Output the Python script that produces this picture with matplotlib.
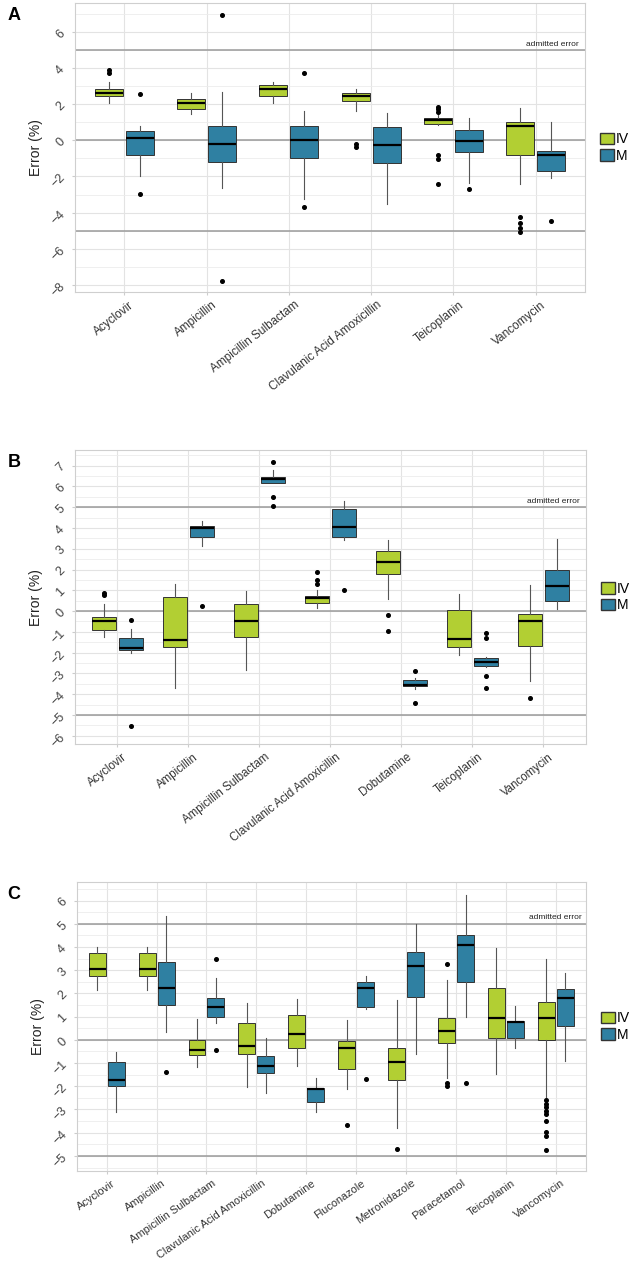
import matplotlib.pyplot as plt
from matplotlib.patches import Patch
from matplotlib.ticker import MultipleLocator
from matplotlib.transforms import ScaledTranslation

plt.rcParams['font.family'] = ['Liberation Sans', 'DejaVu Sans']

IV_COLOR = "#b2cf33"
M_COLOR = "#2f80a2"

# ---- panel A ----
catsA = ["Acyclovir", "Ampicillin", "Ampicillin Sulbactam",
         "Clavulanic Acid Amoxicillin", "Teicoplanin", "Vancomycin"]
# IV: whislo, q1, med, q3, whishi
ivA_lo = [2.06, 1.44, 2.06, 1.63, 0.84, -2.43]
ivA_q1 = [2.43, 1.74, 2.43, 2.19, 0.93, -0.82]
ivA_med = [2.62, 2.06, 2.84, 2.47, 1.10, 0.80]
ivA_q3 = [2.84, 2.28, 3.05, 2.62, 1.23, 1.03]
ivA_hi = [3.23, 2.62, 3.25, 2.84, 1.40, 1.81]
ivA_out = [[3.87, 3.70], [], [], [-0.22, -0.37],
           [1.87, 1.72, 1.57, -0.80, -1.03, -2.43], [-4.24, -4.58, -4.86, -5.05]]
mA_lo = [-1.96, -2.65, -3.27, -3.51, -2.34, -2.11]
mA_q1 = [-0.80, -1.21, -0.97, -1.27, -0.67, -1.72]
mA_med = [0.13, -0.22, 0.0, -0.24, -0.06, -0.79]
mA_q3 = [0.50, 0.79, 0.79, 0.75, 0.56, -0.58]
mA_hi = [0.79, 2.65, 1.64, 1.50, 1.23, 0.99]
mA_out = [[2.56, -2.95], [6.95, -7.78], [3.70, -3.68], [], [-2.67], [-4.45]]

# ---- panel B ----
catsB = ["Acyclovir", "Ampicillin", "Ampicillin Sulbactam",
         "Clavulanic Acid Amoxicillin", "Dobutamine", "Teicoplanin", "Vancomycin"]
ivB_lo = [-1.23, -3.68, -2.84, 0.16, 0.56, -2.11, -3.35]
ivB_q1 = [-0.92, -1.74, -1.23, 0.40, 1.79, -1.74, -1.69]
ivB_med = [-0.50, -1.37, -0.48, 0.61, 2.35, -1.34, -0.47]
ivB_q3 = [-0.29, 0.68, 0.32, 0.74, 2.89, 0.06, -0.13]
ivB_hi = [0.32, 1.32, 0.97, 1.03, 3.42, 0.84, 1.27]
ivB_out = [[0.89, 0.76], [], [], [1.90, 1.48, 1.32], [-0.18, -0.97], [], [-4.16]]
mB_lo = [-2.02, 3.15, 6.16, 3.42, -3.77, -2.68, 0.08]
mB_q1 = [-1.85, 3.55, 6.16, 3.55, -3.61, -2.63, 0.47]
mB_med = [-1.77, 3.98, 6.35, 4.06, -3.55, -2.44, 1.19]
mB_q3 = [-1.29, 4.10, 6.45, 4.89, -3.31, -2.27, 2.00]
mB_hi = [-0.87, 4.35, 6.77, 5.32, -3.23, -2.23, 3.47]
mB_out = [[-0.44, -5.55], [0.24], [7.16, 5.47, 5.06], [1.03], [-2.87, -4.44],
          [-1.05, -1.29, -3.13, -3.68], []]

# ---- panel C ----
catsC = ["Acyclovir", "Ampicillin", "Ampicillin Sulbactam",
         "Clavulanic Acid Amoxicillin", "Dobutamine", "Fluconazole",
         "Metronidazole", "Paracetamol", "Teicoplanin", "Vancomycin"]
ivC_lo = [2.16, 2.16, -1.15, -2.03, -1.11, -2.11, -3.80, -1.64, -1.49, -2.45]
ivC_q1 = [2.77, 2.77, -0.66, -0.63, -0.33, -1.26, -1.72, -0.13, 0.06, 0.0]
ivC_med = [3.07, 3.07, -0.42, -0.27, 0.27, -0.34, -0.95, 0.36, 0.96, 0.96]
ivC_q3 = [3.75, 3.75, 0.0, 0.72, 1.06, -0.06, -0.33, 0.96, 2.24, 1.65]
ivC_hi = [4.02, 4.02, 0.91, 1.57, 1.74, 0.85, 1.72, 2.57, 3.97, 3.49]
ivC_out = [[], [], [], [], [], [-3.66], [-4.70], [3.26, -1.88, -2.0], [],
           [-2.6, -2.75, -2.9, -3.05, -3.2, -3.5, -3.95, -4.15, -4.75]]
mC_lo = [-3.10, 0.33, 0.73, -2.28, -3.12, 1.31, -0.60, 0.99, -0.37, -0.91]
mC_q1 = [-2.0, 1.48, 0.98, -1.41, -2.69, 1.42, 1.85, 2.51, 0.10, 0.59]
mC_med = [-1.71, 2.24, 1.41, -1.11, -2.11, 2.23, 3.20, 4.08, 0.78, 1.80]
mC_q3 = [-0.96, 3.36, 1.81, -0.70, -2.08, 2.51, 3.79, 4.50, 0.82, 2.20]
mC_hi = [-0.52, 5.33, 2.66, 0.09, -1.65, 2.76, 5.0, 6.25, 1.44, 2.86]
mC_out = [[], [-1.39], [3.49, -0.42], [], [], [-1.67], [], [-1.87], [], []]


def make_stats(lo, q1, med, q3, hi, out):
    return [dict(whislo=a, q1=b, med=c, q3=d, whishi=e, fliers=f)
            for a, b, c, d, e, f in zip(lo, q1, med, q3, hi, out)]


def draw_panel(ax, cats, iv, m, ylim, major, letter, angle, lab_size):
    n = len(cats)
    pos = list(range(n))
    for stats, off, col in ((iv, -0.19, IV_COLOR), (m, 0.19, M_COLOR)):
        ax.bxp(stats, positions=[p + off for p in pos], widths=0.34,
               patch_artist=True, manage_ticks=False,
               boxprops=dict(facecolor=col, edgecolor="#333333", linewidth=0.7),
               medianprops=dict(color="black", linewidth=1.6),
               whiskerprops=dict(color="#555555", linewidth=0.8),
               capprops=dict(linewidth=0),
               flierprops=dict(marker="o", markersize=2.6, markerfacecolor="black",
                               markeredgecolor="black"), zorder=3)
    for yv in (5, 0, -5):
        ax.axhline(yv, color="#9a9a9a", linewidth=1.1, zorder=2)
    ax.text(n - 0.48, 5.12, "admitted error", ha="right", va="bottom",
            fontsize=6, color="#222222", zorder=4)
    ax.set_xlim(-0.6, n - 0.4)
    ax.set_ylim(*ylim)
    ax.set_xticks(pos)
    ax.set_xticklabels([])
    # category labels: top-right corner just below each tick
    shift = ScaledTranslation(5 / 100, -7 / 100, ax.figure.dpi_scale_trans)
    for p, cat in zip(pos, cats):
        ax.text(p, 0, cat, transform=ax.get_xaxis_transform() + shift,
                rotation=angle, rotation_mode="anchor", ha="right", va="top",
                fontsize=lab_size, color="#333333")
    ax.yaxis.set_major_locator(MultipleLocator(major))
    ax.yaxis.set_minor_locator(MultipleLocator(major / 2))
    ax.tick_params(axis="y", which="major", labelsize=9, labelcolor="#444444",
                   labelrotation=45, length=2, color="#cccccc")
    ax.tick_params(axis="y", which="minor", length=0)
    ax.tick_params(axis="x", length=2, color="#cccccc")
    ax.grid(True, which="major", color="#e3e3e3", linewidth=0.8, zorder=0)
    ax.grid(True, which="minor", axis="y", color="#ececec", linewidth=0.6, zorder=0)
    ax.set_axisbelow(True)
    for sp in ax.spines.values():
        sp.set_color("#cfcfcf")
    ax.set_ylabel("Error (%)", fontsize=10, color="#222222", labelpad=4)
    handles = [Patch(facecolor=IV_COLOR, edgecolor="#333333", label="IV"),
               Patch(facecolor=M_COLOR, edgecolor="#333333", label="M")]
    ax.legend(handles=handles, loc="center left", bbox_to_anchor=(1.01, 0.5),
              frameon=False, fontsize=10, handlelength=1.0, handleheight=0.9,
              handletextpad=0.15, labelspacing=0.2, borderaxespad=0.3)
    ax.figure.text(0.012, ax.get_position().y1 - 0.01, letter, fontsize=13,
                   fontweight="bold", va="center")


fig = plt.figure(figsize=(6.34, 12.72), dpi=100)
axA = fig.add_axes([0.118, 0.7704, 0.805, 0.2272])
axB = fig.add_axes([0.118, 0.4150, 0.806, 0.2312])
axC = fig.add_axes([0.121, 0.0794, 0.803, 0.2272])

draw_panel(axA, catsA,
           make_stats(ivA_lo, ivA_q1, ivA_med, ivA_q3, ivA_hi, ivA_out),
           make_stats(mA_lo, mA_q1, mA_med, mA_q3, mA_hi, mA_out),
           (-8.4, 7.6), 2, "A", 38, 8.5)
draw_panel(axB, catsB,
           make_stats(ivB_lo, ivB_q1, ivB_med, ivB_q3, ivB_hi, ivB_out),
           make_stats(mB_lo, mB_q1, mB_med, mB_q3, mB_hi, mB_out),
           (-6.4, 7.75), 1, "B", 38, 8.3)
draw_panel(axC, catsC,
           make_stats(ivC_lo, ivC_q1, ivC_med, ivC_q3, ivC_hi, ivC_out),
           make_stats(mC_lo, mC_q1, mC_med, mC_q3, mC_hi, mC_out),
           (-5.65, 6.8), 1, "C", 35, 7.9)

fig.savefig("out.png", dpi=100, facecolor="white")
